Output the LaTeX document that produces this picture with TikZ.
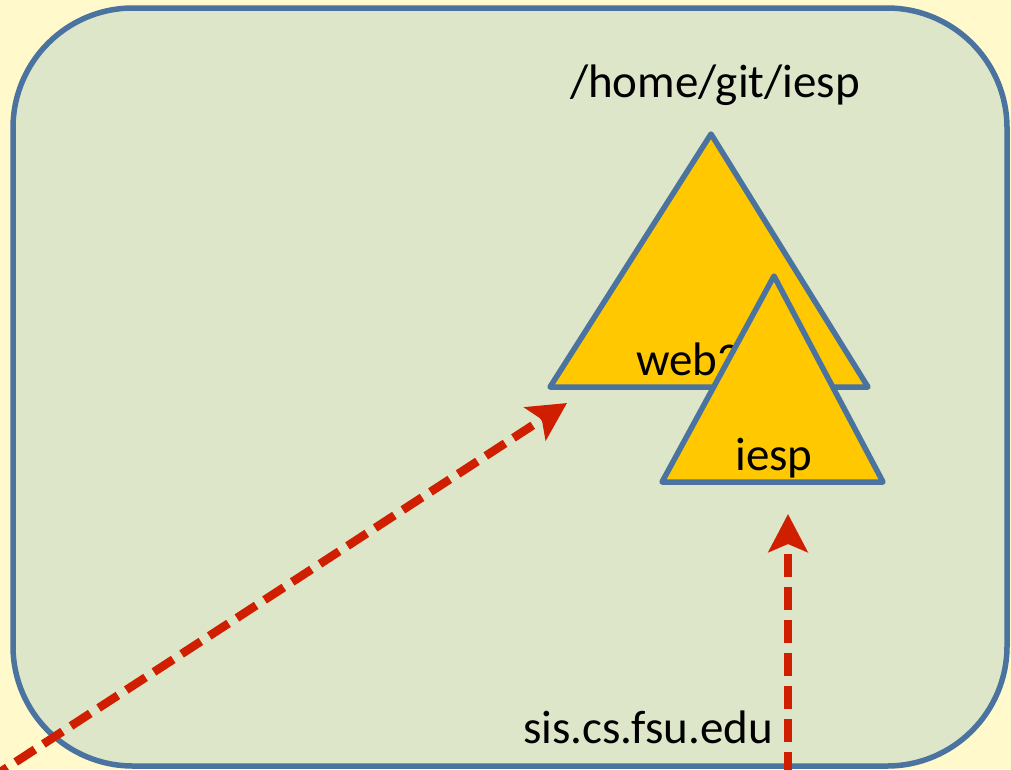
\documentclass[tikz,border=0pt]{standalone}
\usepackage{fontspec}
\setmainfont{Carlito}
\usetikzlibrary{arrows.meta}
\definecolor{bgyellow}{HTML}{FFF9CC}
\definecolor{boxgreen}{HTML}{DDE6C8}
\definecolor{boxblue}{HTML}{4A73A0}
\definecolor{trigold}{HTML}{FFC800}
\definecolor{arrred}{HTML}{D01E00}
\tikzset{
  box/.style={draw=boxblue, fill=boxgreen, line width=5.5pt, rounded corners=120pt},
  tri/.style={draw=boxblue, fill=trigold, line width=5.5pt, line join=round},
  lbl/.style={inner sep=0pt, font=\fontsize{47}{56}\selectfont, text=black},
  link/.style={draw=arrred, line width=8.5pt, dash pattern=on 23pt off 10pt,
    -{Stealth[length=38pt,width=39pt,inset=8pt]}}
}
\begin{document}
\begin{tikzpicture}[x=1pt,y=-1pt]
\useasboundingbox (0,0) rectangle (1011,769);
\fill[bgyellow] (0,0) rectangle (1011,769);
\begin{scope}
\clip (0,0) rectangle (1011,769);
\draw[box] (13,8) rectangle (1007,766);
% big triangle
\coordinate (bA) at (711,134);
\coordinate (bL) at (550,387);
\coordinate (bR) at (868,387);
\draw[tri] (bA) -- (bL) -- (bR) -- cycle;
\node[lbl, anchor=base west] (web) at (636,375) {web2};
% small triangle
\coordinate (sA) at (774,276);
\coordinate (sL) at (662,482);
\coordinate (sR) at (883,482);
\draw[tri] (sA) -- (sL) -- (sR) -- cycle;
\node[lbl, anchor=base] (iesp) at (774,470) {iesp};
\node[lbl, anchor=base] (path) at (715,97) {/home/git/iesp};
\node[lbl, anchor=base west] (host) at (523,743) {sis.cs.fsu.edu};
% arrows
\coordinate (s1) at (-12,780);
\coordinate (t1) at (567,403);
\coordinate (s2) at (788,775);
\coordinate (t2) at (788,514);
\draw[link] (s1) -- (t1);
\draw[link] (s2) -- (t2);
\end{scope}
\end{tikzpicture}
\end{document}
